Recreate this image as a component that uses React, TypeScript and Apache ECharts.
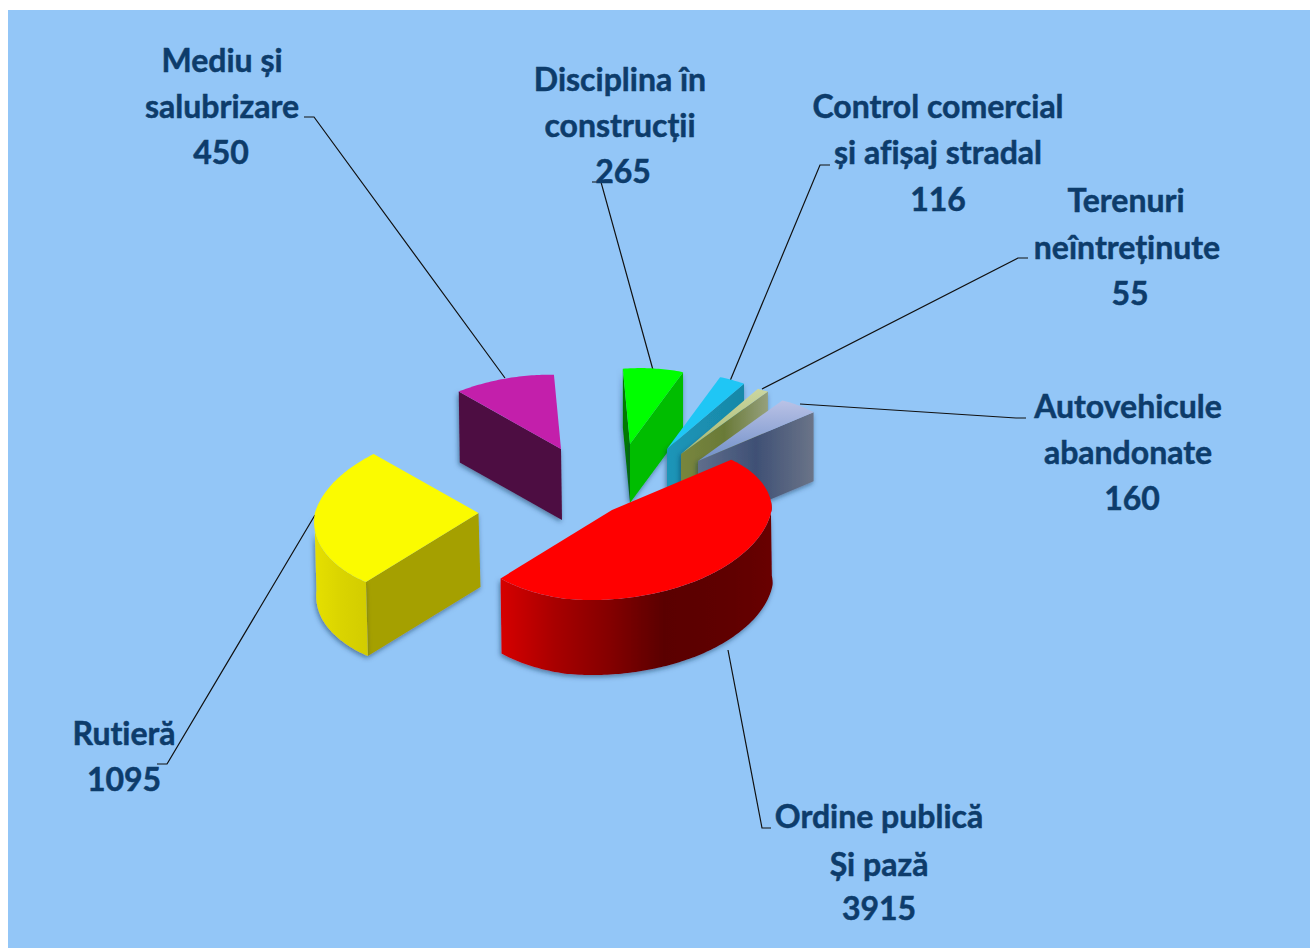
import React, { useEffect, useRef } from "react";
import * as echarts from "echarts";

// ---- data as printed in the chart ----
const categoryLines = [
  ["Ordine publică", "Și pază"],
  ["Rutieră"],
  ["Mediu și", "salubrizare"],
  ["Disciplina în", "construcții"],
  ["Control comercial", "și afișaj stradal"],
  ["Terenuri", "neîntreținute"],
  ["Autovehicule", "abandonate"],
];
const printedValues = [3915, 1095, 450, 265, 116, 55, 160];
// angular size of each wedge (degrees; the artwork is not proportional to the printed values)
const drawnSweeps = [168, 94, 38, 26, 12, 5, 17];

// ---- layout / styling ----
const W = 1310;
const H = 948;
const START = 320;
const AX = 162;
const BX = -20;
const BY = 90;
const INK = "#0D3C6B";
const hGrad = (stops: string[]) =>
  new echarts.graphic.LinearGradient(
    0, 0, 1, 0,
    stops.map((color, i) => ({ offset: i / (stops.length - 1), color }))
  );
const vGrad = (stops: string[]) =>
  new echarts.graphic.LinearGradient(
    0, 0, 0, 1,
    stops.map((color, i) => ({ offset: i / (stops.length - 1), color }))
  );

const sliceStyle: any[] = [
  { apex: [612, 510], h: 75, dx: 1, layer: 9, k: 1, top: "#FF0000", arc: [-6, 128], arcFill: hGrad(["#D60000", "#A80000", "#840000", "#5A0000", "#5E0000", "#680000"]) },
  { apex: [478.5, 513], h: 74, dx: 2, layer: 3, k: 1.01, top: "#FBFB00", arc: [128, 178], arcFill: hGrad(["#E6E000", "#DAD400", "#D2CC00"]), startCut: "#A5A000" },
  { apex: [561, 449], h: 71, dx: 1, layer: 2, k: 0.985, top: "#C31FAB", startCut: "#4E0A42" },
  { apex: [630, 444], h: 59, dx: 0, layer: 4, k: 1, top: "#00FF00", startCut: "#007A00", endCut: "#00BD00" },
  { apex: [667, 449], h: 60, dx: 0, layer: 5, k: 1, top: "#1FC6F5", endCut: hGrad(["#1C95B8", "#1888A8"]) },
  { apex: [681, 454], h: 60, dx: 0, layer: 6, k: 1, top: vGrad(["#CBD6A0", "#A8B870"]), endCut: hGrad(["#78863E", "#6A7A38", "#95A07C"]) },
  { apex: [698, 461], h: 69, dx: 0, layer: 7, k: 0.97, top: vGrad(["#BAC2E6", "#6F8FC8"]), endCut: hGrad(["#5F6E8C", "#3F5075", "#6A7488"]) },
];

// screen-plane positions of each text line
const labelSpots = [
  { x: [879, 879, 879], y: [815, 863, 907] },
  { x: [124, 124], y: [732, 778] },
  { x: [222, 222, 221], y: [59, 105, 151] },
  { x: [620, 620, 623], y: [78, 124, 170] },
  { x: [938, 938, 938], y: [105, 151, 198] },
  { x: [1126, 1127, 1130], y: [199, 246, 292] },
  { x: [1128, 1128, 1132], y: [405, 451, 497] },
];
const leaders = [
  [[771, 828], [762, 828], [728, 650]],
  [[157, 764], [167, 764], [315, 515]],
  [[304, 117], [314, 117], [505, 378]],
  [[592, 182], [601, 182], [653, 370]],
  [[830, 165], [820, 165], [730, 381]],
  [[1028, 258], [1018, 258], [762, 389]],
  [[1026, 418], [1016, 418], [800, 404]],
];

// the far side of the artwork is foreshortened
const knots: [number, number][] = [
  [0, 0.985], [50, 1], [100, 1], [128, 0.965], [160, 0.99], [180, 1],
  [222, 0.97], [260, 0.85], [300, 0.82], [320, 0.87],
];
function radial(deg: number) {
  const a = ((deg % 360) + 360) % 360;
  if (a >= 320) return 0.985 - 0.115 * Math.pow(1 - (a - 320) / 40, 1.2);
  for (let i = 1; i < knots.length; i++) {
    if (a <= knots[i][0]) {
      const t = (a - knots[i - 1][0]) / (knots[i][0] - knots[i - 1][0]);
      return knots[i - 1][1] + t * (knots[i][1] - knots[i - 1][1]);
    }
  }
  return 0.87;
}
function rim(st: any, deg: number) {
  const r = (deg * Math.PI) / 180;
  const k = radial(deg) * st.k;
  return [st.apex[0] + k * (AX * Math.cos(r) + BX * Math.sin(r)), st.apex[1] + k * BY * Math.sin(r)];
}
function sampleArc(st: any, from: number, to: number) {
  const n = Math.max(6, Math.round(Math.abs(to - from)));
  const pts: number[][] = [];
  for (let i = 0; i <= n; i++) pts.push(rim(st, from + ((to - from) * i) / n));
  return pts;
}

const sweepStarts = drawnSweeps.map((_, i) => START + drawnSweeps.slice(0, i).reduce((a, b) => a + b, 0));

function renderItem(_: any, api: any) {
  const i = api.value(0);
  const sweep = api.value(1);
  const st = sliceStyle[i];
  const from = sweepStarts[i];
  const to = from + sweep;
  const toPx = (p: number[]) => api.coord(p);
  const drop = (p: number[]) => [p[0] + st.dx, p[1] + st.h];
  const children: any[] = [];
  const add = (pts: number[][], fill: any, z: number, shadow = false) =>
    children.push({
      type: "polygon",
      z2: st.layer * 10 + z,
      shape: { points: pts.map(toPx) },
      style: shadow
        ? { fill, shadowBlur: 5, shadowColor: "rgba(25,45,80,0.55)", shadowOffsetY: 2, shadowOffsetX: -1 }
        : { fill },
    });
  const cut = (deg: number, fill: any) => {
    const p = rim(st, deg);
    add([st.apex, p, drop(p), drop(st.apex)], fill, 2, true);
  };
  if (st.startCut) cut(from, st.startCut);
  if (st.endCut) cut(to, st.endCut);
  if (st.arc) {
    const pts = sampleArc(st, st.arc[0], st.arc[1]);
    add([...pts, ...pts.slice().reverse().map(drop)], st.arcFill, 3, true);
  }
  add([st.apex, ...sampleArc(st, from, to)], st.top, 5);
  return { type: "group", children };
}

export default function App() {
  const ref = useRef<HTMLDivElement>(null);
  useEffect(() => {
    document.body.style.margin = "0";
    const chart = echarts.init(ref.current!, undefined, { renderer: "svg" });
    const graphics: any[] = [
      {
        type: "rect",
        z: -10,
        shape: { x: 8, y: 10, width: W - 8, height: H - 10 },
        style: { fill: "#93C6F7" },
      },
    ];
    categoryLines.forEach((lines, i) => {
      [...lines, String(printedValues[i])].forEach((text, k) => {
        graphics.push({
          type: "text",
          z: 20,
          x: labelSpots[i].x[k],
          y: labelSpots[i].y[k],
          style: {
            text,
            fill: INK,
            stroke: INK,
            lineWidth: 0.5,
            font: 'bold 32px Lato, "Noto Sans", sans-serif',
            textAlign: "center",
            textVerticalAlign: "middle",
          },
        });
      });
      graphics.push({
        type: "polyline",
        z: 1,
        shape: { points: leaders[i] },
        style: { stroke: "#111", lineWidth: 1.2, fill: "none" },
      });
    });
    chart.setOption({
      animation: false,
      backgroundColor: "#FFFFFF",
      grid: { left: 0, right: 0, top: 0, bottom: 0 },
      xAxis: { type: "value", min: 0, max: W, show: false },
      yAxis: { type: "value", min: 0, max: H, inverse: true, show: false },
      graphic: graphics,
      series: [
        {
          type: "custom",
          coordinateSystem: "cartesian2d",
          clip: false,
          z: 5,
          renderItem,
          encode: { x: 0, y: 1 },
          data: drawnSweeps.map((s, i) => [i, s, printedValues[i]]),
        },
      ],
    });
    return () => chart.dispose();
  }, []);
  return (
    <>
      <style>{"svg text{font-variant-ligatures:none !important;font-feature-settings:'liga' 0,'clig' 0 !important}"}</style>
      <div ref={ref} style={{ position: "fixed", left: 0, top: 0, width: W, height: H }} />
    </>
  );
}
